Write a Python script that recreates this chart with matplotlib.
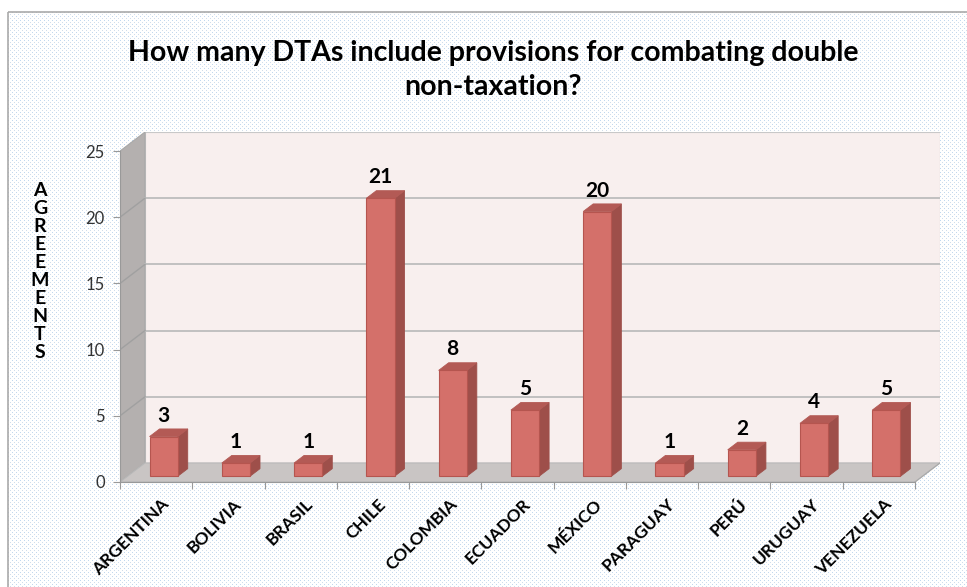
import numpy as np
import matplotlib
matplotlib.use("Agg")
from matplotlib import pyplot as plt
from matplotlib.patches import Polygon, Rectangle

plt.rcParams['font.family'] = ['Lato', 'DejaVu Sans']

COUNTRIES = ["ARGENTINA", "BOLIVIA", "BRASIL", "CHILE", "COLOMBIA", "ECUADOR",
             "MÉXICO", "PARAGUAY", "PERÚ", "URUGUAY", "VENEZUELA"]
AGREEMENTS = [3, 1, 1, 21, 8, 5, 20, 1, 2, 4, 5]
Y_TICKS = [0, 5, 10, 15, 20, 25]
TITLE = "How many DTAs include provisions for combating double\nnon-taxation?"
Y_LABEL = "AGREEMENTS"

# fake 3d: depth shift of the back plane, in data units
DX = 0.346
DY = 1.44
BAR_W = 0.39
F0, F1 = 0.3, 0.7   # bar front / back depth

FRONT = "#d4706a"
SIDE = "#9e4f4a"
TOP = "#b35a55"
EDGE = "#b5554f"

fig = plt.figure(figsize=(9.67, 5.87), dpi=100)

# dotted background
bg = fig.add_axes([0, 0, 1, 1])
h, w = 587, 967
img = np.ones((h, w, 3))
yy, xx = np.mgrid[0:h, 0:w]
img[(yy % 4 == 0) & (xx % 4 == 0)] = (0.76, 0.85, 0.94)
img[(yy % 4 == 2) & (xx % 4 == 2)] = (0.82, 0.87, 0.92)
img[:, :8] = 1
img[:12, :] = 1
bg.imshow(img, aspect="auto", extent=(0, w, h, 0), interpolation="nearest")
bg.add_patch(Rectangle((8, 12), w, h, fill=False, edgecolor="#aaaaaa", lw=1.2))
bg.set_xlim(0, w)
bg.set_ylim(h, 0)
bg.axis("off")

ax = fig.add_axes([120 / 967, 105 / 587, 820 / 967, 350 / 587])
ax.set_xlim(-0.5, 10.5 + DX)
ax.set_ylim(0, 25 + DY)
ax.patch.set_alpha(0)

n = len(COUNTRIES)
x_lo, x_hi = -0.5, n - 0.5

# walls and floor
ax.add_patch(Polygon([(x_lo + DX, DY), (x_hi + DX, DY), (x_hi + DX, 25 + DY), (x_lo + DX, 25 + DY)],
                     closed=True, facecolor="#f8efee", edgecolor="#c8c8c8", lw=0.8, zorder=1))
ax.add_patch(Polygon([(x_lo, 0), (x_lo + DX, DY), (x_lo + DX, 25 + DY), (x_lo, 25)],
                     closed=True, facecolor="#b4b0af", edgecolor="#a8a8a8", lw=0.8, zorder=1))
ax.add_patch(Polygon([(x_lo, 0), (x_hi, 0), (x_hi + DX, DY), (x_lo + DX, DY)],
                     closed=True, facecolor="#c9c5c4", edgecolor="#b8b8b8", lw=0.8, zorder=1))

for t in Y_TICKS[1:-1]:
    ax.plot([x_lo + DX, x_hi + DX], [t + DY, t + DY], color="#bdbdbd", lw=1.3, zorder=2)
    ax.plot([x_lo, x_lo + DX], [t, t + DY], color="#a0a0a0", lw=1.0, zorder=2)

# bars
for i, v in enumerate(AGREEMENTS):
    x0 = i - BAR_W / 2 + F0 * DX
    x1 = x0 + BAR_W
    y0 = F0 * DY
    ddx = (F1 - F0) * DX
    ddy = (F1 - F0) * DY
    ax.add_patch(Polygon([(x1, y0), (x1 + ddx, y0 + ddy), (x1 + ddx, y0 + ddy + v), (x1, y0 + v)],
                         closed=True, facecolor=SIDE, edgecolor=SIDE, lw=0.6, zorder=3))
    ax.add_patch(Polygon([(x0, y0 + v), (x1, y0 + v), (x1 + ddx, y0 + ddy + v), (x0 + ddx, y0 + ddy + v)],
                         closed=True, facecolor=TOP, edgecolor=TOP, lw=0.6, zorder=3))
    ax.add_patch(Rectangle((x0, y0), BAR_W, v, facecolor=FRONT, edgecolor=EDGE, lw=0.8, zorder=4))
    ax.text((x0 + x1) / 2, v + y0 + ddy + 0.25, str(v), ha="center", va="bottom",
            fontsize=15, fontweight="bold", color="black", zorder=5)

# axes
for s in ["top", "right"]:
    ax.spines[s].set_visible(False)
ax.spines["left"].set_bounds(0, 25)
ax.spines["bottom"].set_bounds(x_lo, x_hi)
ax.spines["left"].set_color("#999999")
ax.spines["bottom"].set_color("#999999")
ax.plot([x_hi, x_hi + DX], [0, DY], color="#aaaaaa", lw=0.8, zorder=2)

ax.set_yticks(Y_TICKS)
ax.set_yticklabels([str(t) for t in Y_TICKS], fontsize=12, color="#333333")
ax.tick_params(axis="y", length=5, color="#999999", pad=6)

ax.set_xticks(np.arange(n + 1) - 0.5)
ax.set_xticklabels([])
ax.tick_params(axis="x", which="major", length=5, color="#999999")
ax.set_xticks(np.arange(n) + 0.06, minor=True)
ax.set_xticklabels(COUNTRIES, minor=True, rotation=45, ha="right", rotation_mode="anchor",
                   fontsize=12.5, fontweight="bold")
ax.tick_params(axis="x", which="minor", length=0, pad=10)

fig.text(493 / 967, 1 - 70 / 587, TITLE, ha="center", va="center", fontsize=20.5,
         fontweight="bold", linespacing=1.38)

# stacked axis title, one letter per line
for k, ch in enumerate(Y_LABEL):
    fig.text(40 / 967, 1 - (191 + 17.9 * k) / 587, ch, ha="center", va="center",
             fontsize=14, fontweight="bold")

fig.savefig("out.png", dpi=100)
